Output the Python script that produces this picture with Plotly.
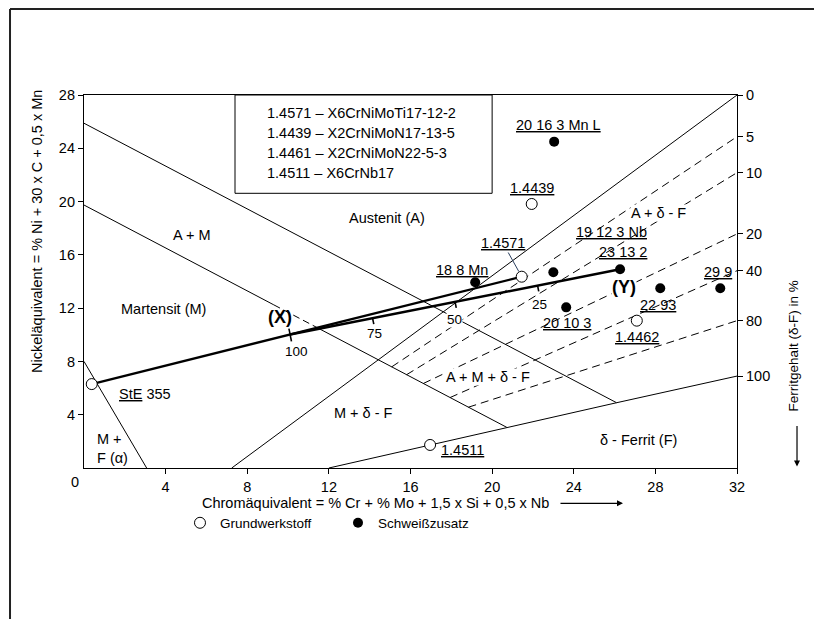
import numpy as np
import plotly.graph_objects as go

# ---------------- data ----------------
x_ticks = [4, 8, 12, 16, 20, 24, 28, 32]
y_ticks = [4, 8, 12, 16, 20, 24, 28]
ferrite_labels = ["0", "5", "10", "20", "40", "80", "100"]
ferrite_pos = [28.0, 24.87, 22.17, 17.57, 14.81, 11.06, 6.9]

# phase boundaries (Cr-eq, Ni-eq)
aust_x = [0, 26.1]
aust_y = [25.88, 4.9]
mart_x = [0, 20.72]
mart_y = [19.74, 3.05]
mart_dash_x = [9.3, 11.4]
mf_x = [0, 3.07]
mf_y = [8, 0]
fer0_x = [7.24, 32]
fer0_y = [0, 28]
fer100_x = [12, 20.72, 26.1, 32]
fer100_y = [0, 3.05, 4.9, 6.9]
iso_start_x = [15.08, 15.81, 16.63, 17.94, 18.84]   # 5,10,20,40,80 % lines

# materials
base_names = ["StE 355", "1.4571", "1.4439", "1.4462", "1.4511"]
base_cr = [0.38, 21.45, 21.94, 27.09, 16.96]
base_ni = [6.3, 14.36, 19.82, 11.06, 1.73]
filler_names = ["20 16 3 Mn L", "18 8 Mn", "19 12 3 Nb", "23 13 2", "20 10 3", "22 93", "29 9"]
filler_cr = [23.04, 19.17, 23.0, 26.27, 23.63, 28.24, 31.18]
filler_ni = [24.5, 13.94, 14.69, 14.92, 12.06, 13.49, 13.49]

# mixing
x_point_cr = 10.1
dilution = [100, 75, 50, 25]

steel_list = ["1.4571 – X6CrNiMoTi17-12-2", "1.4439 – X2CrNiMoN17-13-5",
              "1.4461 – X2CrNiMoN22-5-3", "1.4511 – X6CrNb17"]

FONT = "Liberation Sans, Arial, Helvetica, sans-serif"
FS = 14.5
SX = 653 / 32.0
SY = 373 / 28.0

fig = go.Figure()

def add_line(xs, ys, width=1.0, dash="solid", color="black"):
    fig.add_trace(go.Scatter(x=xs, y=ys, mode="lines", showlegend=False, hoverinfo="skip",
                             line=dict(color=color, width=width, dash=dash)))

def mart_at(x):
    return float(np.interp(x, mart_x, mart_y))

# boundaries
add_line(aust_x, aust_y, 1)
add_line([mart_x[0], mart_dash_x[0]], [mart_y[0], mart_at(mart_dash_x[0])], 1)
add_line(mart_dash_x, [mart_at(v) for v in mart_dash_x], 1, "7px,4px")
add_line([mart_dash_x[1], mart_x[1]], [mart_at(mart_dash_x[1]), mart_y[1]], 1)
add_line(mf_x, mf_y, 1)
add_line(fer0_x, fer0_y, 1)
add_line(fer100_x, fer100_y, 1)
for sx, ey in zip(iso_start_x, ferrite_pos[1:6]):
    add_line([sx, 32], [mart_at(sx), ey], 1, "8px,5px")

# mixing lines
base_y_at_x = float(np.interp(x_point_cr, [base_cr[0], base_cr[1]], [base_ni[0], base_ni[1]]))
add_line([base_cr[0], base_cr[1]], [base_ni[0], base_ni[1]], 2.4)
yx, yy = filler_cr[3], filler_ni[3]
add_line([x_point_cr, yx], [base_y_at_x, yy], 2.4)

# dilution ticks on the mixing line
dxp = (yx - x_point_cr) * SX
dyp = (yy - base_y_at_x) * SY
n = np.hypot(dxp, dyp)
px_, py_ = dyp / n, -dxp / n
for d in dilution:
    t = 1 - d / 100.0
    cx = x_point_cr + t * (yx - x_point_cr)
    cy = base_y_at_x + t * (yy - base_y_at_x)
    a, b = (-6, 7) if d == 100 else (0, 6)
    add_line([cx + a * px_ / SX, cx + b * px_ / SX],
             [cy + a * py_ / SY, cy + b * py_ / SY], 1.6)

# points
fig.add_trace(go.Scatter(x=base_cr, y=base_ni, mode="markers", name="Grundwerkstoff",
                         marker=dict(symbol="circle", size=11, color="white",
                                     line=dict(color="black", width=1)), hoverinfo="skip"))
fig.add_trace(go.Scatter(x=filler_cr, y=filler_ni, mode="markers", name="Schweißzusatz",
                         marker=dict(symbol="circle", size=10, color="black"), hoverinfo="skip"))
fig.add_trace(go.Scatter(x=[0], y=[0], yaxis="y2", mode="markers", showlegend=False,
                         marker=dict(opacity=0), hoverinfo="skip"))

ann = []
def txt(x, y, s, size=FS, xanchor="center", bg=None, xref="x", yref="y", angle=0, **kw):
    d = dict(x=x, y=y, text=s, showarrow=False, xref=xref, yref=yref, xanchor=xanchor,
             yanchor="middle", textangle=angle, font=dict(family=FONT, size=size, color="black"))
    if bg:
        d.update(bgcolor=bg, borderpad=0)
    d.update(kw)
    ann.append(d)

# material labels
base_lab = [(2.99, 5.53, "<u>StE</u> 355"), None, (21.94, 21.0, "<u>1.4439</u>"),
            (27.09, 9.86, "<u>1.4462</u>"), (18.57, 1.35, "<u>1.4511</u>")]
for lab in base_lab:
    if lab:
        txt(lab[0], lab[1], lab[2])
ann.append(dict(x=base_cr[1], y=base_ni[1], ax=20.53, ay=16.89, axref="x", ayref="y",
                xref="x", yref="y", text="<u>1.4571</u>", showarrow=True, arrowhead=0,
                arrowwidth=1, standoff=6, font=dict(family=FONT, size=FS, color="black")))
filler_lab_x = [23.23, 18.51, 25.86, 26.4, 23.65, 28.13, 31.07]
filler_lab_y = [25.75, 14.86, 17.74, 16.24, 10.91, 12.24, 14.74]
for lx, ly, nm in zip(filler_lab_x, filler_lab_y, filler_names):
    txt(lx, ly, "<u>" + nm + "</u>")

# region labels
txt(14.87, 18.77, "Austenit (A)")
txt(5.28, 17.49, "A + M")
txt(3.89, 11.91, "Martensit (M)")
txt(9.6, 11.3, "<b>(X)</b>", size=18)
txt(26.46, 13.61, "<b>(Y)</b>", size=18, bg="white")
txt(28.14, 19.12, "A + δ - F", bg="white")
txt(19.81, 6.85, "A + M + δ - F", bg="white")
txt(13.69, 4.11, "M + δ - F")
txt(27.16, 2.1, "δ - Ferrit (F)")
txt(0.54, 1.5, "M +<br>F (α)", xanchor="left", align="left")
for (lx, ly), d in zip([(10.42, 8.73), (14.26, 10.11), (18.18, 11.16), (22.31, 12.31)], dilution):
    txt(lx, ly, str(d), size=13.5, bg="white" if d == 50 else None)

# steel list box
for i, s in enumerate(steel_list):
    txt(8.87, 26.63 - 1.5 * i, s, xanchor="left")

# axis titles
txt(-0.072, 0.6354, "Nickeläquivalent = % Ni + 30 x C + 0,5 x Mn", size=14.5,
    xref="paper", yref="paper", angle=-90)
txt(0.1776, -0.0946, "Chromäquivalent = % Cr + % Mo + 1,5 x Si + 0,5 x Nb", size=14.5,
    xanchor="left", xref="paper", yref="paper")
txt(1.0858, 0.3257, "Ferritgehalt (δ-F) in %", size=13.5, xref="paper", yref="paper", angle=-90)
txt(-0.0138, -0.0367, "0", xref="paper", yref="paper")
ann.append(dict(x=0.8254, y=-0.0946, xref="paper", yref="paper", ax=-64, ay=0, text="",
                showarrow=True, arrowhead=2, arrowsize=1, arrowwidth=1.2, arrowcolor="black"))
ann.append(dict(x=1.0919, y=0.004, xref="paper", yref="paper", ax=0, ay=-42, text="",
                showarrow=True, arrowhead=2, arrowsize=1, arrowwidth=1.2, arrowcolor="black"))

shapes = [
    dict(type="rect", xref="x", yref="y", x0=7.4, x1=20.0, y0=20.62, y1=28,
         line=dict(color="black", width=1)),
    dict(type="line", xref="paper", yref="paper", x0=-0.1133, x1=-0.1133, y0=1.2306, y1=-0.45,
         line=dict(color="#222", width=2)),
    dict(type="line", xref="paper", yref="paper", x0=-0.1133, x1=1.15, y0=1.2306, y1=1.2306,
         line=dict(color="#222", width=2)),
]

axis_common = dict(showgrid=False, zeroline=False, showline=True, linecolor="black",
                   linewidth=1.2, ticks="outside", ticklen=5, tickcolor="black", tickwidth=1,
                   tickfont=dict(family=FONT, size=14.5, color="black"))
fig.update_layout(
    width=814, height=611,
    margin=dict(l=76, r=85, t=87, b=151),
    paper_bgcolor="white", plot_bgcolor="white",
    xaxis=dict(range=[0, 32], tickvals=x_ticks, mirror=True, **axis_common),
    yaxis=dict(range=[0, 28], tickvals=y_ticks, **axis_common),
    yaxis2=dict(range=[0, 28], overlaying="y", side="right", tickvals=ferrite_pos,
                ticktext=ferrite_labels, **axis_common),
    showlegend=True,
    legend=dict(orientation="h", x=0.147, y=-0.1475, xanchor="left", yanchor="middle",
                font=dict(family=FONT, size=13.5, color="black"), bgcolor="rgba(0,0,0,0)",
                entrywidth=113, entrywidthmode="pixels", tracegroupgap=0),
    annotations=ann, shapes=shapes,
)
fig.write_html("out.html")
